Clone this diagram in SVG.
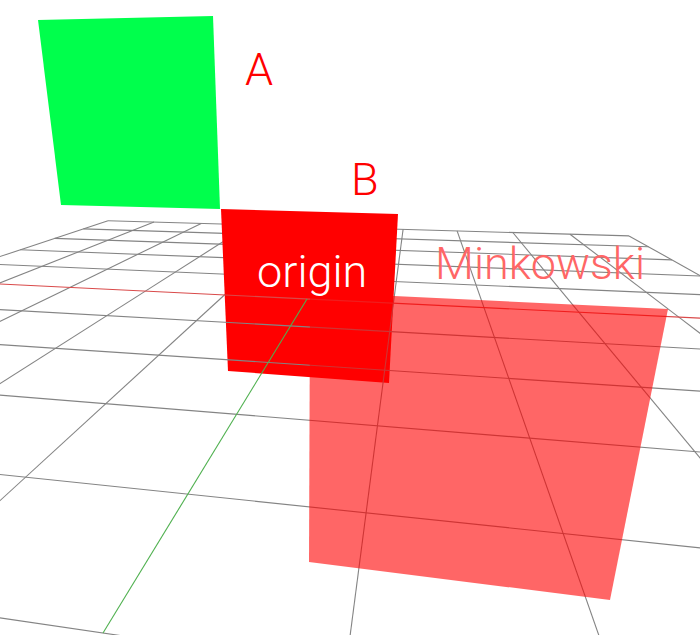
<svg xmlns="http://www.w3.org/2000/svg" width="700" height="635" viewBox="0 0 700 635">
<style>
.g{stroke:#848484;stroke-width:1.1;fill:none}
.lbl{font-family:Roboto,"Liberation Sans",sans-serif;font-weight:300;font-size:45px}
</style>
<rect width="700" height="635" fill="#ffffff"/>
<g id="grid-back" class="g">
<line x1="108.0" y1="220.7" x2="629.0" y2="235.9"/>
<line x1="83.4" y1="228.9" x2="648.5" y2="246.8"/>
<line x1="54.6" y1="238.4" x2="672.0" y2="259.9"/>
<line x1="20.3" y1="249.8" x2="700.8" y2="276.0"/>
<line x1="-21.1" y1="263.6" x2="737.0" y2="296.2"/>
<line x1="108.0" y1="220.7" x2="-72.2" y2="280.5"/>
<line x1="154.0" y1="222.1" x2="-2.7" y2="283.9"/>
<line x1="201.2" y1="223.4" x2="69.8" y2="287.4"/>
<line x1="249.6" y1="224.8" x2="145.4" y2="291.1"/>
<line x1="299.4" y1="226.3" x2="224.4" y2="295.0"/>
<line x1="350.5" y1="227.8" x2="307" y2="299"/>
<line x1="403.1" y1="229.3" x2="393.4" y2="303.2"/>
<line x1="457.1" y1="230.9" x2="484.0" y2="307.6"/>
<line x1="512.8" y1="232.5" x2="579.0" y2="312.3"/>
<line x1="570.0" y1="234.2" x2="678.8" y2="317.1"/>
<line x1="629.0" y1="235.9" x2="783.7" y2="322.2"/>
</g>
<g id="B">
<polygon points="221,209 398,214 389,383 228,371" fill="#ff0000"/>
</g>
<g id="grid-front" class="g">
<line x1="-136.7" y1="301.9" x2="846.5" y2="357.3"/>
<line x1="-220.8" y1="329.9" x2="935.3" y2="406.8"/>
<line x1="-335.1" y1="367.8" x2="1070.5" y2="482.2"/>
<line x1="-499.1" y1="422.2" x2="1301.1" y2="610.8"/>
<line x1="-754.5" y1="507.0" x2="1783.6" y2="880.0"/>
<line x1="-72.2" y1="280.5" x2="-754.5" y2="507.0"/>
<line x1="-2.7" y1="283.9" x2="-618.3" y2="527.0"/>
<line x1="69.8" y1="287.4" x2="-467.3" y2="549.2"/>
<line x1="145.4" y1="291.1" x2="-299.1" y2="573.9"/>
<line x1="224.4" y1="295.0" x2="-110.3" y2="601.7"/>
<line x1="393.4" y1="303.2" x2="345.8" y2="668.7"/>
<line x1="484.0" y1="307.6" x2="624.9" y2="709.7"/>
<line x1="579.0" y1="312.3" x2="948.9" y2="757.3"/>
<line x1="678.8" y1="317.1" x2="1329.7" y2="813.3"/>
<line x1="783.7" y1="322.2" x2="1783.6" y2="880.0"/>
</g>
<g id="axes" fill="none" stroke-width="1.1">
<line x1="-72.2" y1="280.5" x2="783.7" y2="322.2" stroke="#d94a4a"/>
<line x1="307" y1="299" x2="103.0" y2="633.0" stroke="#4fb04f"/>
</g>
<g id="Minkowski">
<polygon points="310,292 668,309 610,600 309,562" fill="#ff0000" fill-opacity="0.6"/>
</g>
<g id="A">
<polygon points="38,20 213,16 220,209 61,205" fill="#00ff4c"/>
</g>
<g id="labels" class="lbl">
<text x="245" y="85" fill="#ff0000">A</text>
<text x="351" y="195" fill="#ff0000">B</text>
<text x="257" y="287" fill="#ffffff">origin</text>
<text x="435" y="279" fill="#ff6666">Minkowski</text>
</g>
</svg>
